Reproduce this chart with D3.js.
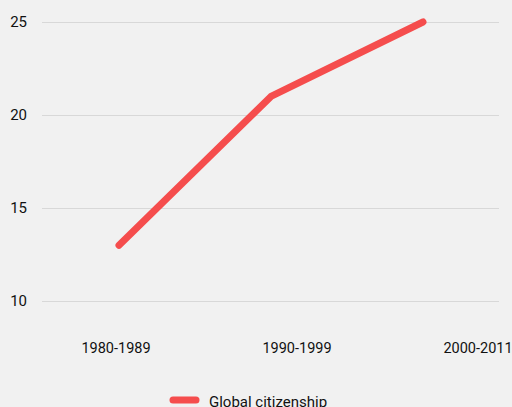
<!DOCTYPE html>
<html><head><meta charset="utf-8">
<script src="https://cdn.jsdelivr.net/npm/d3@7"></script>
<style>
html,body{margin:0;padding:0;background:#f1f1f1;}
svg{display:block;}
text{font-family:"Roboto","DejaVu Sans Condensed",sans-serif;fill:#111;}
</style></head>
<body>
<svg id="c" width="512" height="407"></svg>
<script>
const categories = ["1980-1989", "1990-1999", "2000-2011"];
const seriesName = "Global citizenship";
const values = [13, 21, 25];
const yTicks = [10, 15, 20, 25];

const svg = d3.select("#c");
const color = "#f54d4d";

const y = d3.scaleLinear().domain([10, 25]).range([301, 22]);
const x = d3.scalePoint().domain(categories).range([119, 423]);
const xLabel = d3.scalePoint().domain(categories).range([116, 478]);

// grid
svg.append("g").selectAll("line").data(yTicks).join("line")
  .attr("x1", 42).attr("x2", 499)
  .attr("y1", d => y(d) + 0.5).attr("y2", d => y(d) + 0.5)
  .attr("stroke", "#d8d8d8").attr("stroke-width", 1);

// y labels
svg.append("g").selectAll("text").data(yTicks).join("text")
  .attr("x", 27).attr("y", d => y(d) + 5)
  .attr("text-anchor", "end").attr("font-size", 15)
  .text(d => d);

// x labels
svg.append("g").selectAll("text").data(categories).join("text")
  .attr("x", d => xLabel(d)).attr("y", 353)
  .attr("text-anchor", "middle").attr("font-size", 14.5)
  .text(d => d);

// line
const line = d3.line().x((d, i) => x(categories[i])).y(d => y(d));
svg.append("path").datum(values)
  .attr("d", line).attr("fill", "none")
  .attr("stroke", color).attr("stroke-width", 7)
  .attr("stroke-linecap", "round").attr("stroke-linejoin", "round");

// legend
svg.append("line").attr("x1", 173).attr("x2", 196).attr("y1", 400).attr("y2", 400)
  .attr("stroke", color).attr("stroke-width", 7).attr("stroke-linecap", "round");
svg.append("text").attr("x", 209).attr("y", 407).attr("font-size", 15).text(seriesName);
</script>
</body></html>
